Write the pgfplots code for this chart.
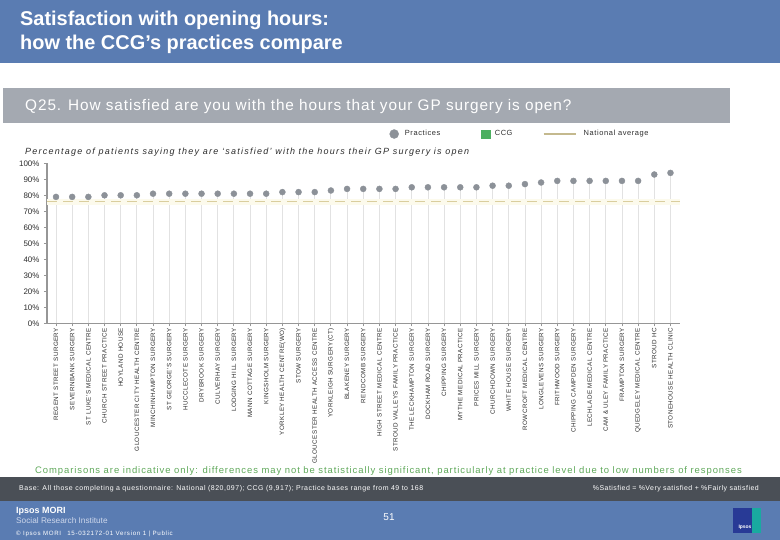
\documentclass[border=0pt]{standalone}
\usepackage{pgfplots}
\pgfplotsset{compat=1.18}
\usepackage{pgfplotstable}
\usepackage{fontspec}
\setmainfont{Liberation Sans}
\newcommand\ls[1]{\addfontfeatures{LetterSpace=#1}}
\definecolor{bandblue}{RGB}{90,124,178}
\definecolor{qgray}{RGB}{164,169,177}
\definecolor{darkband}{RGB}{74,79,86}
\definecolor{notegreen}{RGB}{95,168,90}
\definecolor{ccggreen}{RGB}{76,175,96}
\definecolor{ptcol}{RGB}{140,145,152}
\definecolor{dropgray}{RGB}{226,226,226}
\definecolor{natcol}{RGB}{218,206,158}
\definecolor{natband}{RGB}{252,250,236}
\definecolor{axgray}{RGB}{150,150,150}
\definecolor{labcol}{RGB}{45,45,45}
\definecolor{lightfoot}{RGB}{205,215,235}
\definecolor{logoblue}{RGB}{40,58,150}
\definecolor{logoteal}{RGB}{25,170,160}

\pgfplotstableread{
x y
0 79
1 79
2 79
3 80
4 80
5 80
6 81
7 81
8 81
9 81
10 81
11 81
12 81
13 81
14 82
15 82
16 82
17 83
18 84
19 84
20 84
21 84
22 85
23 85
24 85
25 85
26 85
27 86
28 86
29 87
30 88
31 89
32 89
33 89
34 89
35 89
36 89
37 93
38 94
}\practices

\pgfplotstableread{
x y
-0.557 76
38.59 76
}\national

\begin{document}
\begin{tikzpicture}
\useasboundingbox (0,0) rectangle (780bp,540bp);
% title banner
\fill[bandblue] (0,477bp) rectangle (780bp,540bp);
\node[anchor=base west, inner sep=0, text=white, font=\bfseries\fontsize{20}{24}\selectfont] at (20bp,514bp) {Satisfaction with opening hours:};
\node[anchor=base west, inner sep=0, text=white, font=\bfseries\fontsize{20}{24}\selectfont] at (20bp,490bp) {how the CCG’s practices compare};
% question band
\fill[qgray] (2.5bp,417bp) rectangle (730bp,452bp);
\node[anchor=base west, inner sep=0, text=white, font=\fontsize{15.4}{18}\selectfont\ls{6}] at (25bp,429bp) {Q25. How satisfied are you with the hours that your GP surgery is open?};
% subtitle
\node[anchor=base west, inner sep=0, text=labcol, font=\itshape\fontsize{9}{11}\selectfont\ls{14}] at (25bp,385bp) {Percentage of patients saying they are ‘satisfied’ with the hours their GP surgery is open};
% note
\node[anchor=base, inner sep=0, text=notegreen, font=\fontsize{9.5}{11}\selectfont\ls{9.8}] at (388.5bp,66bp) {Comparisons are indicative only: differences may not be statistically significant, particularly at practice level due to low numbers of responses};
% dark band
\fill[darkband] (0,39.3bp) rectangle (780bp,63.3bp);
\node[anchor=base west, inner sep=0, text=white, font=\fontsize{7}{8}\selectfont\ls{7.5}] at (19bp,49bp) {Base: All those completing a questionnaire: National (820,097); CCG (9,917); Practice bases range from 49 to 168};
\node[anchor=base east, inner sep=0, text=white, font=\fontsize{7}{8}\selectfont\ls{6.5}] at (759bp,49bp) {\%Satisfied = \%Very satisfied + \%Fairly satisfied};
% footer
\fill[bandblue] (0,0) rectangle (780bp,39.3bp);
\node[anchor=base west, inner sep=0, text=white, font=\bfseries\fontsize{9}{10}\selectfont] at (16bp,27bp) {Ipsos MORI};
\node[anchor=base west, inner sep=0, text=lightfoot, font=\fontsize{8.3}{9}\selectfont] at (16bp,17bp) {Social Research Institute};
\node[anchor=base west, inner sep=0, text=white, font=\fontsize{6.2}{7}\selectfont\ls{11}] at (16bp,5bp) {© Ipsos MORI\quad 15-032172-01 Version 1 | Public};
\node[anchor=base, inner sep=0, text=white, font=\fontsize{10}{12}\selectfont] at (389bp,20bp) {51};
% logo
\fill[logoblue] (733bp,7bp) rectangle (752bp,32.3bp);
\fill[logoteal] (752bp,7bp) rectangle (761bp,32.3bp);
\node[anchor=base, inner sep=0, text=white, font=\bfseries\fontsize{5}{6}\selectfont] at (745bp,12bp) {Ipsos};

\begin{axis}[
  at={(47bp,216.7bp)}, anchor=south west,
  scale only axis, width=633bp, height=160bp,
  xmin=-0.557, xmax=38.59, ymin=0, ymax=100,
  axis x line=bottom, axis y line=left,
  axis line style={draw=axgray, line width=1.4bp, -},
  tick align=outside, major tick length=3bp,
  tick style={draw=axgray, line width=0.8bp},
  xtick={0,...,38},
  xticklabels={REGENT STREET SURGERY, SEVERNBANK SURGERY, ST LUKE'S MEDICAL CENTRE, CHURCH STREET PRACTICE, HOYLAND HOUSE, GLOUCESTER CITY HEALTH CENTRE, MINCHINHAMPTON SURGERY, ST GEORGE'S SURGERY, HUCCLECOTE SURGERY, DRYBROOK SURGERY, CULVERHAY SURGERY, LODGING HILL SURGERY, MANN COTTAGE SURGERY, KINGSHOLM SURGERY, YORKLEY HEALTH CENTRE(WO), STOW SURGERY, GLOUCESTER HEALTH ACCESS CENTRE, YORKLEIGH SURGERY(CT), BLAKENEY SURGERY, RENDCOMB SURGERY, HIGH STREET MEDICAL CENTRE, STROUD VALLEYS FAMILY PRACTICE, THE LECKHAMPTON SURGERY, DOCKHAM ROAD SURGERY, CHIPPING SURGERY, MYTHE MEDICAL PRACTICE, PRICES MILL SURGERY, CHURCHDOWN SURGERY, WHITE HOUSE SURGERY, ROWCROFT MEDICAL CENTRE, LONGLEVENS SURGERY, FRITHWOOD SURGERY, CHIPPING CAMPDEN SURGERY, LECHLADE MEDICAL CENTRE, CAM \& ULEY FAMILY PRACTICE, FRAMPTON SURGERY, QUEDGELEY MEDICAL CENTRE, STROUD HC, STONEHOUSE HEALTH CLINIC},
  xticklabel style={rotate=90, anchor=east, font=\fontsize{6.3}{7}\selectfont\ls{6.6}, text=labcol, inner sep=1.5bp},
  ytick={0,10,...,100},
  yticklabels={0\%,10\%,20\%,30\%,40\%,50\%,60\%,70\%,80\%,90\%,100\%},
  yticklabel style={font=\fontsize{8}{9}\selectfont, text=labcol, xshift=-1bp},
  legend style={at={(axis description cs:0.536,1.183)}, anchor=west, draw=none, fill=none,
    font=\fontsize{7.5}{9}\selectfont\ls{8}, text=labcol, legend columns=3,
    /tikz/column 2/.style={column sep=39bp},
    /tikz/column 4/.style={column sep=28bp}},
  legend cell align=left,
]
\addplot[ycomb, draw=dropgray, line width=0.8bp, forget plot] table {\practices};
\addplot[draw=natband, line width=6bp, forget plot] table {\national};
\addplot[draw=natcol, line width=1.3bp, dash pattern=on 10bp off 6bp, forget plot] table {\national};
\addplot[only marks, mark=*, mark size=3bp, mark options={draw=ptcol, fill=ptcol}, forget plot] table {\practices};
\addlegendimage{legend image code/.code={\fill[ptcol] (0bp,0bp) circle (4.5bp); \path (8.5bp,0bp);}}
\addlegendentry{Practices}
\addlegendimage{legend image code/.code={\fill[ccggreen] (-4.5bp,-4bp) rectangle (4.5bp,4bp); \path (6.5bp,0bp);}}
\addlegendentry{CCG}
\addlegendimage{legend image code/.code={\draw[natcol!90!black, line width=2bp] (0bp,0bp) -- (32bp,0bp); \path (38bp,0bp);}}
\addlegendentry{National average}
\end{axis}
\end{tikzpicture}
\end{document}
